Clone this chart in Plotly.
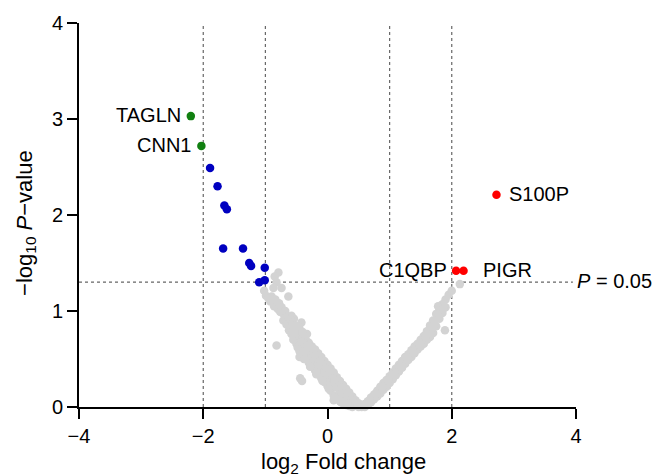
import plotly.graph_objects as go

# Non-significant proteins (log2 fold change, -log10 P)
gray_x = [
    -0.79, -0.85, -0.82, -0.87, -0.74, -1.02, -0.99, -0.63, -0.92, -0.86, -0.80, -0.76,
    -0.70, -0.58, -0.54, -0.71, -0.66, -0.42, -0.46, -0.62, -0.58, -0.47, -0.33, -0.55,
    -0.50, -0.82, -0.44, -0.41, -0.60, -0.55, -0.50, -0.52, -0.48,
    -0.45, -0.45, -0.45, -0.45, -0.40, -0.40, -0.40, -0.35, -0.35, -0.35,
    -0.30, -0.30, -0.30, -0.25, -0.25, -0.25, -0.20, -0.20, -0.20,
    -0.15, -0.15, -0.15, -0.10, -0.10, -0.10, -0.05, -0.05, -0.05,
    0.00, 0.00, 0.00, 0.05, 0.05, 0.05, 0.10, 0.10, 0.10, 0.10,
    0.15, 0.15, 0.15, 0.20, 0.20, 0.20, 0.25, 0.25, 0.25,
    0.30, 0.30, 0.30, 0.35, 0.35, 0.35, 0.40, 0.40, 0.40,
    0.45, 0.45, 0.50, 0.50, 0.55, 0.55,
    -0.95, -0.90, -0.84, -0.78, -0.74, -0.68, -0.64, -0.60, -0.56, -0.52, -0.49,
    -0.44, -0.40, -0.36, -0.38, -0.42, -0.33, -0.28, -0.22, -0.18, -0.12, -0.08,
    -0.02, 0.03, 0.08, 0.12, 0.18, 0.22, 0.28, 0.32, 0.38, 0.42, 0.48,
    -0.38, -0.28, -0.18, -0.08, 0.02, 0.12, 0.22, 0.32,
    0.60, 0.60, 0.65, 0.65, 0.70, 0.70, 0.75, 0.75, 0.80, 0.80,
    0.85, 0.85, 0.90, 0.90, 0.95, 0.95, 1.00, 1.00, 1.05, 1.05,
    1.10, 1.10, 1.15, 1.15, 1.20, 1.20, 1.25, 1.25, 1.30, 1.30,
    1.35, 1.35, 1.40, 1.40, 1.45, 1.45, 1.50, 1.50, 1.55, 1.55,
    1.60, 1.60, 1.65, 1.65, 1.70, 1.70, 1.75, 1.75, 1.80, 1.80,
    1.85, 1.85, 1.90, 1.90, 1.95,
    0.68, 0.78, 0.88, 0.98, 1.08, 1.18, 1.28, 1.38, 1.48, 1.58, 1.68, 1.72, 1.62,
    1.89, 2.00, 2.13, 1.78, 1.86,
]
gray_y = [
    1.40, 1.36, 1.30, 1.24, 1.24, 1.21, 1.16, 1.15, 1.10, 1.05, 1.02, 0.99,
    0.96, 0.95, 0.92, 0.90, 0.86, 0.88, 0.84, 0.80, 0.76, 0.78, 0.76, 0.70,
    0.66, 0.64, 0.30, 0.27, 0.84, 0.80, 0.77, 0.72, 0.62,
    0.74, 0.65, 0.58, 0.52, 0.72, 0.62, 0.54, 0.70, 0.60, 0.50,
    0.67, 0.57, 0.46, 0.63, 0.53, 0.42, 0.60, 0.49, 0.38,
    0.56, 0.45, 0.34, 0.52, 0.41, 0.30, 0.48, 0.37, 0.26,
    0.44, 0.33, 0.22, 0.40, 0.29, 0.17, 0.36, 0.24, 0.12, 0.07,
    0.31, 0.20, 0.09, 0.27, 0.16, 0.06, 0.23, 0.12, 0.04,
    0.19, 0.09, 0.02, 0.15, 0.06, 0.01, 0.11, 0.04, 0.00,
    0.07, 0.02, 0.04, 0.00, 0.02, 0.00,
    1.13, 1.15, 1.12, 1.08, 1.04, 1.00, 0.94, 0.92, 0.88, 0.85, 0.80,
    0.80, 0.78, 0.74, 0.66, 0.68, 0.64, 0.62, 0.56, 0.54, 0.48, 0.44,
    0.40, 0.35, 0.30, 0.28, 0.22, 0.20, 0.14, 0.12, 0.08, 0.05, 0.02,
    0.50, 0.42, 0.34, 0.27, 0.19, 0.10, 0.05, 0.03,
    0.03, 0.00, 0.06, 0.02, 0.10, 0.05, 0.13, 0.08, 0.17, 0.11,
    0.21, 0.14, 0.25, 0.18, 0.28, 0.21, 0.32, 0.25, 0.36, 0.29,
    0.40, 0.33, 0.44, 0.37, 0.48, 0.41, 0.52, 0.45, 0.55, 0.49,
    0.59, 0.52, 0.63, 0.56, 0.66, 0.60, 0.70, 0.63, 0.74, 0.66,
    0.79, 0.70, 0.85, 0.73, 0.90, 0.77, 0.97, 0.84, 1.02, 0.92,
    1.07, 0.98, 1.12, 1.04, 1.17,
    0.07, 0.14, 0.21, 0.28, 0.35, 0.43, 0.51, 0.58, 0.66, 0.73, 0.82, 0.86, 0.76,
    0.80, 1.21, 1.28, 1.05, 1.02,
]

# Down-regulated proteins
blue_x = [-1.89, -1.77, -1.66, -1.62, -1.68, -1.36, -1.26, -1.23, -1.01, -1.10, -1.01]
blue_y = [2.49, 2.30, 2.10, 2.06, 1.65, 1.65, 1.50, 1.47, 1.45, 1.30, 1.32]

# Labelled down-regulated proteins
green_names = ["TAGLN", "CNN1"]
green_x = [-2.20, -2.03]
green_y = [3.03, 2.72]

# Labelled up-regulated proteins
red_names = ["S100P", "C1QBP", "PIGR"]
red_x = [2.72, 2.07, 2.19]
red_y = [2.21, 1.42, 1.42]

fc_cutoffs = [-2, -1, 1, 2]
p_cutoff = 1.30  # -log10(0.05)

FONT = "Arial, Liberation Sans, sans-serif"
MS = 8.5

fig = go.Figure()
fig.add_trace(go.Scatter(x=gray_x, y=gray_y, mode="markers", cliponaxis=False,
                         marker=dict(size=MS, color="#d3d3d3", line=dict(width=0))))
fig.add_trace(go.Scatter(x=blue_x, y=blue_y, mode="markers", cliponaxis=False,
                         marker=dict(size=MS, color="#0000c0", line=dict(width=0))))
fig.add_trace(go.Scatter(x=green_x, y=green_y, mode="markers", cliponaxis=False,
                         marker=dict(size=MS, color="#118011", line=dict(width=0))))
fig.add_trace(go.Scatter(x=red_x, y=red_y, mode="markers", cliponaxis=False,
                         marker=dict(size=MS, color="#ff0000", line=dict(width=0))))

for xc in fc_cutoffs:
    fig.add_shape(type="line", x0=xc, x1=xc, y0=0, y1=4, layer="below",
                  line=dict(color="#666666", width=1.2, dash="dot"))
fig.add_shape(type="line", x0=-4, x1=3.95, y0=p_cutoff, y1=p_cutoff, layer="below",
              line=dict(color="#666666", width=1.2, dash="dot"))

ann = []
label_offsets = {"TAGLN": ("right", -8), "CNN1": ("right", -8),
                 "S100P": ("left", 11), "C1QBP": ("right", -7), "PIGR": ("left", 17)}
for name, x, y in zip(green_names + red_names, green_x + red_x, green_y + red_y):
    anchor, shift = label_offsets[name]
    ann.append(dict(x=x, y=y, xref="x", yref="y", text=name, showarrow=False,
                    xanchor=anchor, yanchor="middle", xshift=shift, yshift=1,
                    font=dict(family=FONT, size=20, color="black")))

ann.append(dict(x=4, y=p_cutoff, xref="x", yref="y", text="<i>P</i> = 0.05",
                showarrow=False, xanchor="left", yanchor="middle", xshift=-1, yshift=1,
                font=dict(family=FONT, size=20, color="black")))
ann.append(dict(x=0.533, y=-0.145, xref="paper", yref="paper",
                text="log<sub>2</sub> Fold change", showarrow=False,
                xanchor="center", yanchor="middle",
                font=dict(family=FONT, size=22, color="black")))
ann.append(dict(x=-0.107, y=0.479, xref="paper", yref="paper",
                text="\u2212log<sub>10</sub> <i>P</i>\u2212value", showarrow=False,
                textangle=-90, xanchor="center", yanchor="middle",
                font=dict(family=FONT, size=22, color="black")))

axis_common = dict(showgrid=False, zeroline=False, showline=True, linecolor="black",
                   linewidth=2, ticks="outside", ticklen=10, tickwidth=2,
                   tickcolor="black", tickfont=dict(family=FONT, size=20, color="black"))

fig.update_layout(
    width=653, height=476, autosize=False,
    margin=dict(l=79, r=77, t=18, b=69),
    paper_bgcolor="white", plot_bgcolor="white",
    showlegend=False,
    annotations=ann,
    xaxis=dict(range=[-4, 4], tickvals=[-4, -2, 0, 2, 4], **axis_common),
    yaxis=dict(range=[0, 4], tickvals=[0, 1, 2, 3, 4], **axis_common),
)

fig.write_html("out.html")
